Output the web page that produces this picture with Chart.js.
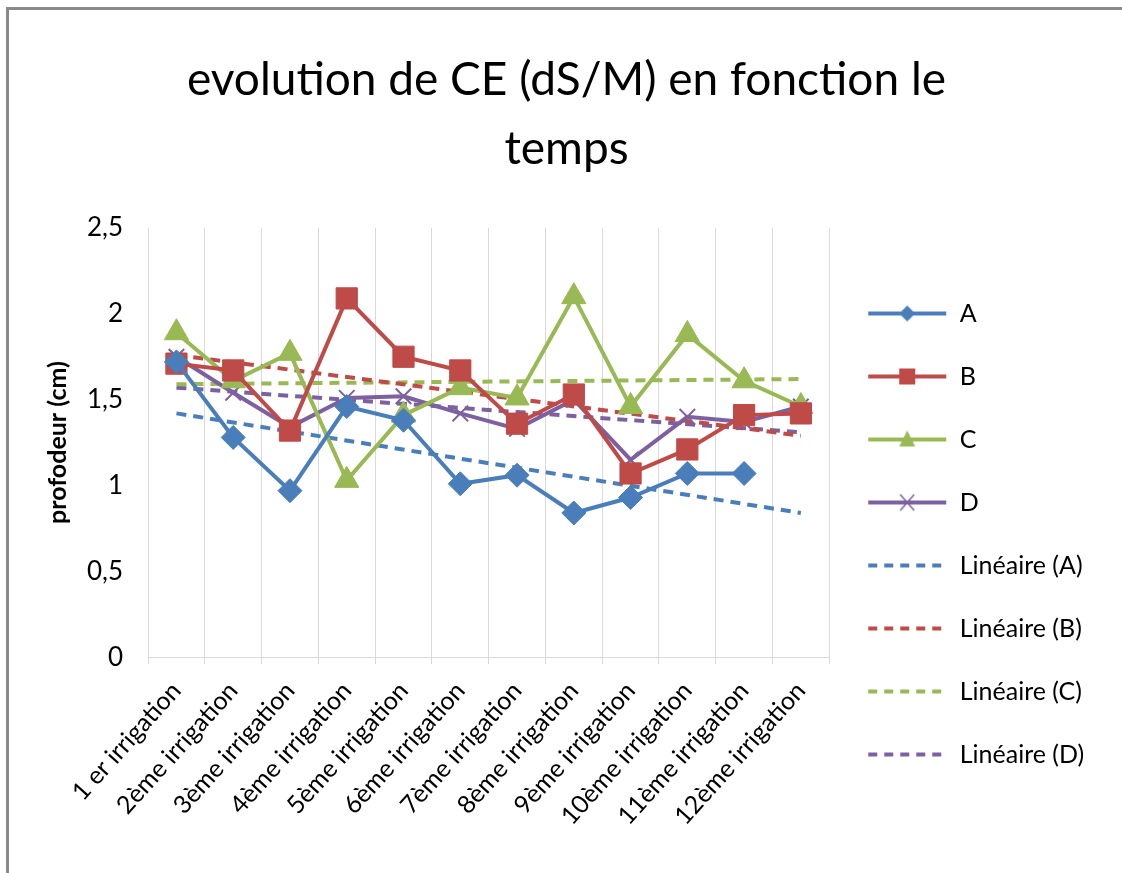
<!DOCTYPE html>
<html lang="fr">
<head>
    <meta charset="UTF-8">
    <title>evolution de CE (dS/M) en fonction le temps</title>
    <script src="https://cdn.jsdelivr.net/npm/chart.js"></script>
    <style>
        html, body {
            margin: 0;
            padding: 0;
            background: #fff;
        }
        #cadre {
            position: absolute;
            left: 6px;
            top: 7px;
            width: 1113px;
            height: 866px;
            border-left: 3px solid #8a8a8a;
            border-top: 3px solid #8a8a8a;
            border-right: 3px solid #8a8a8a;
        }
    </style>
</head>
<body>
    <div id="cadre"><canvas id="ceChart"></canvas></div>

    <script>
        // données
        const irrigations = ['1 er irrigation', '2ème irrigation', '3ème irrigation', '4ème irrigation',
            '5ème irrigation', '6ème irrigation', '7ème irrigation', '8ème irrigation',
            '9ème irrigation', '10ème irrigation', '11ème irrigation', '12ème irrigation'];
        const serieA = [1.72, 1.28, 0.97, 1.46, 1.38, 1.01, 1.06, 0.84, 0.93, 1.07, 1.07, null];
        const serieB = [1.71, 1.67, 1.32, 2.09, 1.75, 1.67, 1.36, 1.53, 1.07, 1.21, 1.41, 1.42];
        const serieC = [1.89, 1.61, 1.77, 1.03, 1.41, 1.57, 1.51, 2.10, 1.46, 1.88, 1.61, 1.46];
        const serieD = [1.75, 1.54, 1.34, 1.51, 1.52, 1.42, 1.33, 1.50, 1.15, 1.40, 1.37, 1.46];
        // courbes de tendance : valeurs de début et de fin
        const tendanceA = [1.42, null, null, null, null, null, null, null, null, null, null, 0.84];
        const tendanceB = [1.76, null, null, null, null, null, null, null, null, null, null, 1.29];
        const tendanceC = [1.59, null, null, null, null, null, null, null, null, null, null, 1.62];
        const tendanceD = [1.57, null, null, null, null, null, null, null, null, null, null, 1.31];
        const yTicks = [0, 0.5, 1, 1.5, 2, 2.5];

        const bleu = '#4a7ebb';
        const rouge = '#be4b48';
        const vert = '#98b954';
        const violet = '#7d60a0';
        const police = "Lato, 'Open Sans', sans-serif";

        // petite image pour la légende : trait + marqueur
        function iconeLegende(couleur, marqueur, pointille) {
            const c = document.createElement('canvas');
            c.width = 80;
            c.height = 26;
            const g = c.getContext('2d');
            g.strokeStyle = couleur;
            g.fillStyle = couleur;
            g.lineWidth = 4;
            g.setLineDash(pointille ? [9, 7] : []);
            g.beginPath();
            g.moveTo(1, 13);
            g.lineTo(79, 13);
            g.stroke();
            g.setLineDash([]);
            g.beginPath();
            if (marqueur === 'losange') {
                g.moveTo(40, 5); g.lineTo(48, 13); g.lineTo(40, 21); g.lineTo(32, 13);
                g.closePath(); g.fill();
            } else if (marqueur === 'carre') {
                g.fillRect(32, 5, 16, 16);
            } else if (marqueur === 'triangle') {
                g.moveTo(40, 4); g.lineTo(48, 20); g.lineTo(32, 20);
                g.closePath(); g.fill();
            } else if (marqueur === 'croix') {
                g.lineWidth = 1.5;
                g.moveTo(33, 5); g.lineTo(47, 21);
                g.moveTo(47, 5); g.lineTo(33, 21);
                g.stroke();
            }
            return c;
        }

        function serie(label, data, couleur, style, rayon) {
            return {
                label: label,
                data: data,
                borderColor: couleur,
                backgroundColor: couleur,
                borderWidth: 4,
                pointStyle: style,
                pointRadius: rayon,
                pointBorderWidth: style === 'crossRot' ? 2 : 1,
                pointBackgroundColor: couleur,
                pointBorderColor: couleur,
                tension: 0,
                fill: false
            };
        }

        function tendance(label, data, couleur) {
            return {
                label: label,
                data: data,
                borderColor: couleur,
                borderWidth: 4,
                borderDash: [10, 7],
                pointRadius: 0,
                spanGaps: true,
                fill: false
            };
        }

        const icones = [
            iconeLegende(bleu, 'losange', false),
            iconeLegende(rouge, 'carre', false),
            iconeLegende(vert, 'triangle', false),
            iconeLegende(violet, 'croix', false),
            iconeLegende(bleu, null, true),
            iconeLegende(rouge, null, true),
            iconeLegende(vert, null, true),
            iconeLegende(violet, null, true)
        ];

        const ctx = document.getElementById('ceChart').getContext('2d');
        new Chart(ctx, {
            type: 'line',
            data: {
                labels: irrigations,
                datasets: [
                    serie('A', serieA, bleu, 'rectRot', 12),
                    serie('B', serieB, rouge, 'rect', 15),
                    serie('C', serieC, vert, 'triangle', 14),
                    serie('D', serieD, violet, 'crossRot', 11),
                    tendance('Linéaire (A)', tendanceA, bleu),
                    tendance('Linéaire (B)', tendanceB, rouge),
                    tendance('Linéaire (C)', tendanceC, vert),
                    tendance('Linéaire (D)', tendanceD, violet)
                ]
            },
            options: {
                responsive: true,
                maintainAspectRatio: false,
                animation: false,
                layout: {
                    padding: { left: 32, right: 30, top: 10, bottom: 33 }
                },
                scales: {
                    x: {
                        offset: true,
                        grid: {
                            offset: true,
                            color: '#d9d9d9',
                            lineWidth: 1,
                            tickLength: 7
                        },
                        border: { color: '#d9d9d9' },
                        ticks: {
                            color: '#000',
                            padding: 12,
                            minRotation: 48,
                            maxRotation: 48,
                            font: { family: police, size: 25 }
                        }
                    },
                    y: {
                        min: 0,
                        max: 2.5,
                        afterBuildTicks: axis => {
                            axis.ticks = yTicks.map(v => ({ value: v }));
                        },
                        grid: { display: false },
                        border: { display: false },
                        ticks: {
                            color: '#000',
                            padding: 17,
                            font: { family: police, size: 26 },
                            callback: v => String(v).replace('.', ',')
                        },
                        title: {
                            display: true,
                            text: 'profodeur (cm)',
                            color: '#000',
                            padding: { top: 4, bottom: 0 },
                            font: { family: police, size: 25, weight: 'bold', lineHeight: 1.0 }
                        }
                    }
                },
                plugins: {
                    title: {
                        display: true,
                        text: ['evolution de CE (dS/M) en fonction le', 'temps'],
                        color: '#000',
                        font: { family: police, size: 46, weight: 'normal', lineHeight: 1.5 },
                        padding: { top: 26, bottom: 44 }
                    },
                    legend: {
                        display: true,
                        position: 'right',
                        align: 'start',
                        title: {
                            display: true,
                            text: ' ',
                            font: { size: 10 },
                            padding: { top: 231, bottom: 0 }
                        },
                        labels: {
                            color: '#000',
                            usePointStyle: true,
                            pointStyleWidth: 80,
                            padding: 38,
                            font: { family: police, size: 25 },
                            generateLabels: chart => chart.data.datasets.map((ds, i) => ({
                                text: ds.label,
                                pointStyle: icones[i],
                                fillStyle: ds.borderColor,
                                strokeStyle: ds.borderColor,
                                lineWidth: 0,
                                hidden: false,
                                datasetIndex: i,
                                fontColor: '#000'
                            }))
                        }
                    },
                    tooltip: { enabled: false }
                }
            }
        });
    </script>
</body>
</html>
